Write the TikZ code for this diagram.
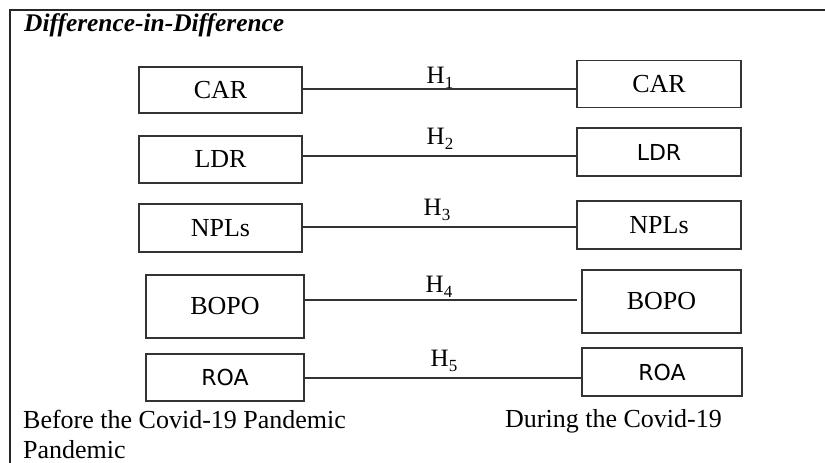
\documentclass[tikz,border=0pt]{standalone}
\usepackage{fontspec}
\setmainfont{Liberation Serif}
\newfontfamily\sansf{DejaVu Sans}
\newcommand{\hsub}[1]{H\raisebox{-0.4ex}{\fontsize{17}{17}\selectfont #1}}
\tikzset{
  boxnode/.style={draw=black!80, line width=1.6pt, inner sep=0pt, font=\fontsize{26}{30}\selectfont},
  sansbox/.style={boxnode, font=\sansf\fontsize{22}{26}\selectfont},
  link/.style={draw=black!80, line width=1.5pt},
  hlabel/.style={font=\fontsize{25}{28}\selectfont, inner sep=0pt},
  frame/.style={draw=black!85, line width=1.8pt},
  caption/.style={font=\fontsize{26}{30}\selectfont, anchor=base west, inner sep=0pt, align=left}
}
\begin{document}
\begin{tikzpicture}[x=1pt,y=-1pt]
\useasboundingbox (0,0) rectangle (825,463);
\fill[white] (0,0) rectangle (825,463);
\coordinate (ftop) at (825,10);
\coordinate (fcorner) at (10,10);
\coordinate (fbot) at (10,463);
\draw[frame] (ftop) -- (fcorner) -- (fbot);
\node[anchor=base west, inner sep=0pt, font=\bfseries\itshape\fontsize{25.4}{28}\selectfont] (title) at (24,31) {Difference-in-Difference};
% left boxes
\node[boxnode, minimum width=163pt, minimum height=46pt] (carL) at (220.5,90) {CAR};
\node[boxnode, minimum width=163pt, minimum height=47pt] (ldrL) at (220.5,159.5) {LDR};
\node[boxnode, minimum width=163pt, minimum height=48pt] (nplL) at (220.5,228) {NPLs};
\node[boxnode, minimum width=158pt, minimum height=63pt] (bopoL) at (225,306.5) {BOPO};
\node[sansbox, minimum width=158pt, minimum height=47pt] (roaL) at (225,377.5) {ROA};
% right boxes
\node[boxnode, minimum width=164pt, minimum height=47pt] (carR) at (659,84) {CAR};
\node[sansbox, minimum width=164pt, minimum height=48pt] (ldrR) at (659,152) {LDR};
\node[boxnode, minimum width=164pt, minimum height=48pt] (nplR) at (659,225) {NPLs};
\node[boxnode, minimum width=159pt, minimum height=63pt] (bopoR) at (661.5,301.5) {BOPO};
\node[sansbox, minimum width=160pt, minimum height=48pt] (roaR) at (662,372) {ROA};
% line heights
\coordinate (y1) at (0,89);
\coordinate (y2) at (0,156);
\coordinate (y3) at (0,227);
\coordinate (y4) at (0,300);
\coordinate (y5) at (0,378);
\draw[link] (carL.east |- y1) -- (carR.west |- y1);
\draw[link] (ldrL.east |- y2) -- (ldrR.west |- y2);
\draw[link] (nplL.east |- y3) -- (nplR.west |- y3);
\draw[link, shorten >=4pt] (bopoL.east |- y4) -- (bopoR.west |- y4);
\draw[link] (roaL.east |- y5) -- (roaR.west |- y5);
% hypothesis labels
\node[hlabel] (h1) at (440,78) {\hsub{1}};
\node[hlabel] (h2) at (440,139) {\hsub{2}};
\node[hlabel] (h3) at (437,210) {\hsub{3}};
\node[hlabel] (h4) at (439,287) {\hsub{4}};
\node[hlabel] (h5) at (444,361) {\hsub{5}};
% captions
\node[caption] (before) at (23,428) {Before the Covid-19 Pandemic};
\node[caption] (before2) at (23,458) {Pandemic};
\node[caption] (during) at (505,427) {During the Covid-19};
\end{tikzpicture}
\end{document}
